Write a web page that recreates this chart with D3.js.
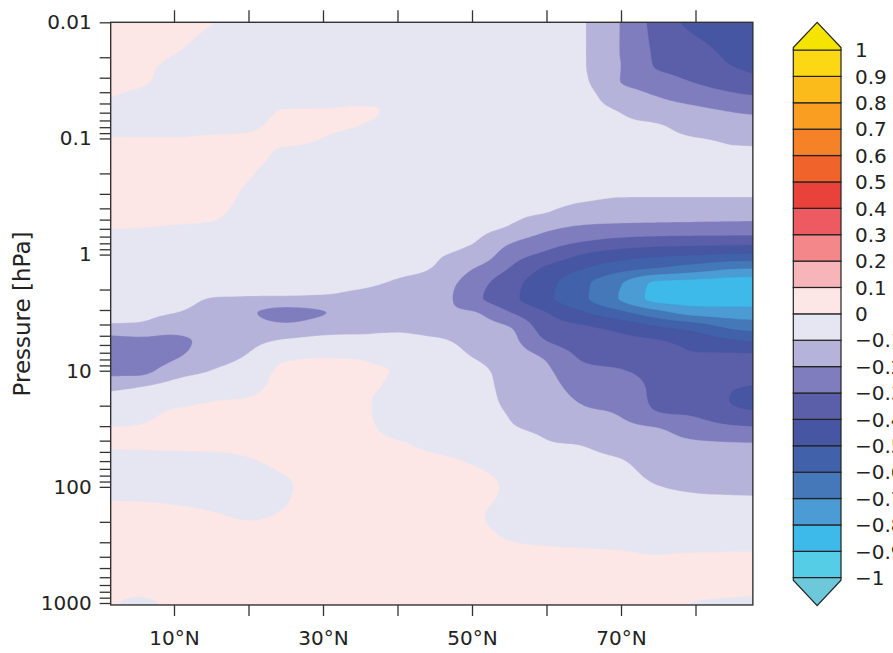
<!DOCTYPE html>
<html>
<head>
<meta charset="utf-8">
<script src="https://cdn.jsdelivr.net/npm/d3@7"></script>
<style>
html,body{margin:0;padding:0;background:#fff;overflow:hidden}
svg{display:block;font-family:"DejaVu Sans",sans-serif}
</style>
</head>
<body>
<svg id="chart" width="893" height="653"></svg>
<script>
// ---------------- data ----------------
const latitudes = [0,5,10,15,20,25,30,35,40,45,50,55,60,65,70,75,80,85,90];
const pressureLevels = [0.01,0.0133,0.0178,0.0237,0.0316,0.0422,0.0562,0.075,
  0.1,0.133,0.178,0.237,0.316,0.422,0.562,0.75,
  1,1.33,1.78,2.37,3.16,4.22,5.62,7.5,
  10,13.3,17.8,23.7,31.6,42.2,56.2,100,178,316,562,1000];
// one row per pressure level, one value per latitude
const anomaly = [
 [0.04,0.03,0.025,0.003,-0.02,-0.025,-0.03,-0.035,-0.04,-0.04,-0.04,-0.04,-0.04,-0.095,-0.205,-0.34,-0.43,-0.46,-0.48],
 [0.035,0.025,0.015,-0.01,-0.025,-0.03,-0.035,-0.04,-0.045,-0.045,-0.045,-0.045,-0.045,-0.095,-0.205,-0.33,-0.398,-0.44,-0.47],
 [0.03,0.02,0.003,-0.02,-0.03,-0.035,-0.04,-0.045,-0.05,-0.05,-0.05,-0.05,-0.05,-0.095,-0.205,-0.32,-0.367,-0.425,-0.455],
 [0.02,0.012,-0.01,-0.03,-0.035,-0.035,-0.035,-0.045,-0.05,-0.05,-0.055,-0.055,-0.055,-0.095,-0.201,-0.31,-0.338,-0.401,-0.43],
 [0.01,0.008,-0.02,-0.035,-0.035,-0.03,-0.03,-0.04,-0.045,-0.05,-0.055,-0.06,-0.06,-0.09,-0.203,-0.265,-0.31,-0.355,-0.398],
 [0.005,-0.006,-0.025,-0.035,-0.03,-0.02,-0.02,-0.03,-0.04,-0.05,-0.055,-0.06,-0.065,-0.08,-0.153,-0.208,-0.25,-0.288,-0.312],
 [-0.01,-0.012,-0.025,-0.03,-0.02,0.0005,0.001,0.004,-0.01,-0.05,-0.055,-0.06,-0.065,-0.08,-0.107,-0.154,-0.185,-0.212,-0.231],
 [-0.015,-0.01,-0.015,-0.015,-0.008,0.01,0.015,0.001,-0.012,-0.05,-0.055,-0.06,-0.065,-0.075,-0.09,-0.0995,-0.139,-0.162,-0.17],
 [0.002,0.001,0.001,0.005,0.006,0.01,-0.001,-0.03,-0.035,-0.055,-0.06,-0.065,-0.07,-0.075,-0.08,-0.085,-0.098,-0.108,-0.112],
 [0.02,0.02,0.02,0.025,0.02,-0.01,-0.015,-0.04,-0.045,-0.06,-0.06,-0.065,-0.07,-0.075,-0.075,-0.08,-0.085,-0.095,-0.095],
 [0.03,0.03,0.03,0.035,0.01,-0.02,-0.025,-0.045,-0.05,-0.06,-0.065,-0.07,-0.075,-0.08,-0.075,-0.08,-0.08,-0.085,-0.085],
 [0.03,0.035,0.035,0.035,-0.001,-0.03,-0.035,-0.05,-0.055,-0.065,-0.065,-0.075,-0.08,-0.085,-0.08,-0.085,-0.085,-0.088,-0.088],
 [0.03,0.03,0.03,0.03,-0.015,-0.035,-0.04,-0.05,-0.055,-0.07,-0.07,-0.08,-0.085,-0.09,-0.098,-0.099,-0.099,-0.099,-0.099],
 [0.02,0.02,0.02,0.015,-0.025,-0.04,-0.045,-0.055,-0.06,-0.075,-0.075,-0.085,-0.0965,-0.133,-0.151,-0.153,-0.154,-0.155,-0.155],
 [0.005,0.003,-0.001,-0.006,-0.035,-0.045,-0.05,-0.06,-0.065,-0.08,-0.08,-0.101,-0.169,-0.204,-0.213,-0.218,-0.221,-0.225,-0.226],
 [-0.02,-0.015,-0.02,-0.025,-0.045,-0.05,-0.055,-0.06,-0.07,-0.09,-0.095,-0.18,-0.244,-0.29,-0.321,-0.336,-0.341,-0.344,-0.346],
 [-0.04,-0.03,-0.035,-0.04,-0.055,-0.06,-0.06,-0.065,-0.075,-0.094,-0.12,-0.25,-0.324,-0.405,-0.452,-0.481,-0.495,-0.513,-0.521],
 [-0.05,-0.045,-0.05,-0.06,-0.07,-0.07,-0.07,-0.075,-0.085,-0.105,-0.198,-0.305,-0.42,-0.503,-0.573,-0.615,-0.659,-0.701,-0.711],
 [-0.06,-0.055,-0.06,-0.08,-0.085,-0.085,-0.085,-0.09,-0.11,-0.14,-0.25,-0.36,-0.47,-0.58,-0.696,-0.82,-0.83,-0.84,-0.85],
 [-0.07,-0.065,-0.075,-0.101,-0.105,-0.106,-0.11,-0.12,-0.14,-0.155,-0.27,-0.37,-0.48,-0.585,-0.71,-0.83,-0.84,-0.84,-0.85],
 [-0.085,-0.085,-0.099,-0.13,-0.185,-0.24,-0.205,-0.15,-0.15,-0.18,-0.193,-0.295,-0.398,-0.495,-0.58,-0.671,-0.74,-0.753,-0.759],
 [-0.11,-0.115,-0.15,-0.15,-0.16,-0.175,-0.14,-0.12,-0.12,-0.15,-0.16,-0.198,-0.348,-0.388,-0.433,-0.495,-0.545,-0.621,-0.649],
 [-0.27,-0.24,-0.23,-0.16,-0.125,-0.085,-0.07,-0.075,-0.065,-0.08,-0.13,-0.17,-0.297,-0.352,-0.372,-0.39,-0.438,-0.485,-0.513],
 [-0.28,-0.275,-0.215,-0.14,-0.093,-0.015,-0.005,-0.007,-0.04,-0.05,-0.102,-0.15,-0.216,-0.315,-0.334,-0.36,-0.39,-0.39,-0.395],
 [-0.24,-0.24,-0.14,-0.099,-0.06,0.015,0.015,0.01,-0.004,-0.035,-0.07,-0.135,-0.186,-0.28,-0.296,-0.33,-0.37,-0.385,-0.39],
 [-0.135,-0.115,-0.078,-0.06,-0.03,0.025,0.03,0.02,-0.015,-0.03,-0.05,-0.135,-0.168,-0.247,-0.266,-0.32,-0.36,-0.395,-0.402],
 [-0.08,-0.06,-0.03,-0.005,0.005,0.03,0.035,0.015,-0.03,-0.03,-0.04,-0.125,-0.15,-0.214,-0.237,-0.32,-0.34,-0.405,-0.43],
 [-0.06,-0.03,0.012,0.02,0.025,0.03,0.035,0.015,-0.03,-0.03,-0.035,-0.105,-0.131,-0.179,-0.207,-0.292,-0.31,-0.37,-0.39],
 [0.002,0.005,0.02,0.025,0.03,0.03,0.035,0.02,-0.02,-0.025,-0.03,-0.09,-0.113,-0.142,-0.173,-0.197,-0.247,-0.277,-0.289],
 [0.01,0.01,0.012,0.015,0.02,0.025,0.035,0.025,0.005,-0.012,-0.02,-0.06,-0.096,-0.105,-0.138,-0.172,-0.189,-0.196,-0.199],
 [-0.02,-0.015,-0.01,-0.01,-0.001,0.02,0.035,0.03,0.015,0.005,-0.008,-0.04,-0.083,-0.088,-0.102,-0.147,-0.163,-0.169,-0.172],
 [-0.015,-0.015,-0.02,-0.025,-0.03,-0.008,0.03,0.03,0.025,0.025,0.02,-0.01,-0.055,-0.059,-0.069,-0.098,-0.111,-0.115,-0.117],
 [0.02,0.02,0.015,0.005,-0.005,0.006,0.03,0.03,0.03,0.03,0.008,-0.015,-0.028,-0.031,-0.038,-0.055,-0.062,-0.063,-0.064],
 [0.03,0.03,0.03,0.025,0.025,0.025,0.03,0.03,0.03,0.03,0.02,0.003,-0.001,-0.003,-0.006,-0.012,-0.013,-0.01,-0.01],
 [0.03,0.03,0.03,0.03,0.03,0.03,0.03,0.03,0.03,0.03,0.03,0.025,0.02,0.02,0.02,0.015,0.025,0.02,0.02],
 [0.02,-0.01,0.01,0.025,0.03,0.03,0.03,0.03,0.03,0.03,0.03,0.03,0.03,0.025,0.025,0.02,-0.002,-0.006,-0.01]
];
const contourLevels = [-1,-0.9,-0.8,-0.7,-0.6,-0.5,-0.4,-0.3,-0.2,-0.1,0,0.1,0.2,0.3,0.4,0.5,0.6,0.7,0.8,0.9,1];
// colours of the 22 classes: below -1, 20 intervals, above 1
const bandColors = ["#6dc9d9","#56cde7","#3db9ea","#4b9bd4","#4478b9","#4162aa","#4656a3","#5b5ea9","#7f7dbe","#b5b3d9","#e6e6f2",
                    "#fde6e6","#f7b5b9","#f38789","#ee5a62","#e8423a","#f0632b","#f58226","#f99e20","#fbbc1b","#fcd714","#f5e400"];
const colorbarLabels = ["\u22121","\u22120.9","\u22120.8","\u22120.7","\u22120.6","\u22120.5","\u22120.4","\u22120.3","\u22120.2","\u22120.1","0",
                        "0.1","0.2","0.3","0.4","0.5","0.6","0.7","0.8","0.9","1"];
const latTicks = [10,20,30,40,50,60,70,80];
const latTickLabels = {10:"10°N",30:"30°N",50:"50°N",70:"70°N"};
const pressureMajorTicks = [0.01,0.1,1,10,100,1000];
const pressureTickLabels = ["0.01","0.1","1","10","100","1000"];

(function(){
// ---------------- layout ----------------
const svg = d3.select("#chart");
const xScale = d3.scaleLinear().domain([0,90]).range([99.5,770]);
const yScale = d3.scaleLog().domain([0.01,1000]).range([22.3,603]);
const plotLat = [1.5,87.7], plotP = [0.01,1040];
const X0 = xScale(plotLat[0]), X1 = xScale(plotLat[1]);
const Y0 = yScale(plotP[0]), Y1 = yScale(plotP[1]);
const ink = "#222";

// ---------------- field rendering (monotone cubic resampling for smooth contours) ----------------
function steffenSlopes(xs, ys){
  const n = xs.length, d = new Array(n);
  const h = [], s = [];
  for (let i=0;i<n-1;i++){ h[i] = xs[i+1]-xs[i]; s[i] = (ys[i+1]-ys[i])/h[i]; }
  d[0] = s[0]; d[n-1] = s[n-2];
  for (let i=1;i<n-1;i++){
    const p = (s[i-1]*h[i] + s[i]*h[i-1])/(h[i-1]+h[i]);
    d[i] = (Math.sign(s[i-1]) + Math.sign(s[i])) * Math.min(Math.abs(s[i-1]), Math.abs(s[i]), 0.5*Math.abs(p));
  }
  return d;
}
function hermiteAt(xs, ys, ds, x){
  const n = xs.length;
  if (x <= xs[0]) return ys[0];
  if (x >= xs[n-1]) return ys[n-1];
  const i = Math.min(n-2, d3.bisectRight(xs, x) - 1);
  const h = xs[i+1]-xs[i], t = (x-xs[i])/h, t2 = t*t, t3 = t2*t;
  return (2*t3-3*t2+1)*ys[i] + (t3-2*t2+t)*h*ds[i] + (-2*t3+3*t2)*ys[i+1] + (t3-t2)*h*ds[i+1];
}
const logP = pressureLevels.map(Math.log10);
const dLat = 0.5, nx = 181;
const lpStart = -2, dLp = 0.0125, ny = 405;
// step 1: along latitude for every pressure row
const rowsFine = anomaly.map(row => {
  const ds = steffenSlopes(latitudes, row);
  return d3.range(nx).map(i => hermiteAt(latitudes, row, ds, i*dLat));
});
// step 2: along log-pressure for every fine column
const grid = new Float64Array(nx*ny);
for (let i=0;i<nx;i++){
  const col = rowsFine.map(r => r[i]);
  const ds = steffenSlopes(logP, col);
  for (let j=0;j<ny;j++) grid[j*nx+i] = hermiteAt(logP, col, ds, lpStart + j*dLp);
}
const contours = d3.contours().size([nx,ny]).thresholds(contourLevels)(grid);
const proj = d3.geoTransform({point(gx,gy){
  const lat = (gx-0.5)*dLat, lp = lpStart + (gy-0.5)*dLp;
  this.stream.point(xScale(lat), yScale(Math.pow(10,lp)));
}});
const path = d3.geoPath(proj);

svg.append("defs").append("clipPath").attr("id","plotclip")
  .append("rect").attr("x",X0).attr("y",Y0).attr("width",X1-X0).attr("height",Y1-Y0);

const field = svg.append("g").attr("clip-path","url(#plotclip)");
field.append("rect").attr("x",X0).attr("y",Y0).attr("width",X1-X0).attr("height",Y1-Y0).attr("fill",bandColors[0]);
field.selectAll("path").data(contours).join("path")
  .attr("d", path)
  .attr("fill", (d,i) => bandColors[i+1])
  .attr("stroke", (d,i) => bandColors[i+1])
  .attr("stroke-width", 0.3);

// frame
svg.append("rect").attr("x",X0).attr("y",Y0).attr("width",X1-X0).attr("height",Y1-Y0)
  .attr("fill","none").attr("stroke","#333").attr("stroke-width",1.4);

// ---------------- axes ----------------
const pressureTicks = [];
pressureMajorTicks.forEach((m,k) => {
  if (k < pressureMajorTicks.length-1) for (let f=1; f<=9; f++) pressureTicks.push(m*f);
  else pressureTicks.push(m);
});
function styleAxis(g){
  g.select(".domain").remove();
  g.selectAll(".tick line").attr("stroke","#333").attr("stroke-width",1.3);
  g.selectAll(".tick text").attr("fill",ink).attr("font-size",20).attr("font-family","DejaVu Sans, sans-serif");
}
const yAxis = d3.axisLeft(yScale).tickValues(pressureTicks).tickSize(11).tickPadding(8)
  .tickFormat(p => { const k = pressureMajorTicks.findIndex(m => Math.abs(m-p) < m*1e-6); return k >= 0 ? pressureTickLabels[k] : ""; });
svg.append("g").attr("transform",`translate(${X0},0)`).call(yAxis).call(styleAxis);

const xAxisB = d3.axisBottom(xScale).tickValues(latTicks).tickSize(11).tickPadding(15)
  .tickFormat(d => latTickLabels[d] || "");
svg.append("g").attr("transform",`translate(0,${Y1})`).call(xAxisB).call(styleAxis);

const xAxisT = d3.axisTop(xScale).tickValues(latTicks).tickSize(12).tickFormat(() => "");
svg.append("g").attr("transform",`translate(0,${Y0})`).call(xAxisT).call(styleAxis);

svg.append("text").attr("transform","translate(30,314) rotate(-90)")
  .attr("text-anchor","middle").attr("font-size",23).attr("fill",ink)
  .text("Pressure [hPa]");

// ---------------- colour bar ----------------
const cbX0 = 793.3, cbX1 = 841;
const cbScale = d3.scaleLinear().domain([-1,1]).range([577.7,50]);
const cb = svg.append("g");
const boxes = d3.range(contourLevels.length-1).map(i => ({lo:contourLevels[i], hi:contourLevels[i+1], color:bandColors[i+1]}));
cb.selectAll("rect").data(boxes).join("rect")
  .attr("x",cbX0).attr("width",cbX1-cbX0)
  .attr("y",d => cbScale(d.hi)).attr("height",d => cbScale(d.lo)-cbScale(d.hi))
  .attr("fill",d => d.color).attr("stroke","#222").attr("stroke-width",1.2);
const cm = (cbX0+cbX1)/2, cbTop = cbScale(1), cbBot = cbScale(-1);
cb.append("path").attr("d",`M${cbX0},${cbTop}L${cbX0},${cbTop-2.5}L${cm},${cbTop-27.7}L${cbX1},${cbTop-2.5}L${cbX1},${cbTop}Z`)
  .attr("fill",bandColors[bandColors.length-1]).attr("stroke","#222").attr("stroke-width",1.2);
cb.append("path").attr("d",`M${cbX0},${cbBot}L${cbX0},${cbBot+2.5}L${cm},${cbBot+28}L${cbX1},${cbBot+2.5}L${cbX1},${cbBot}Z`)
  .attr("fill",bandColors[0]).attr("stroke","#222").attr("stroke-width",1.2);
cb.selectAll("text").data(contourLevels).join("text")
  .attr("x",855).attr("y",d => cbScale(d)).attr("dy","0.36em")
  .attr("font-size",20).attr("fill",ink)
  .text((d,i) => colorbarLabels[i]);
})();
</script>
</body>
</html>
